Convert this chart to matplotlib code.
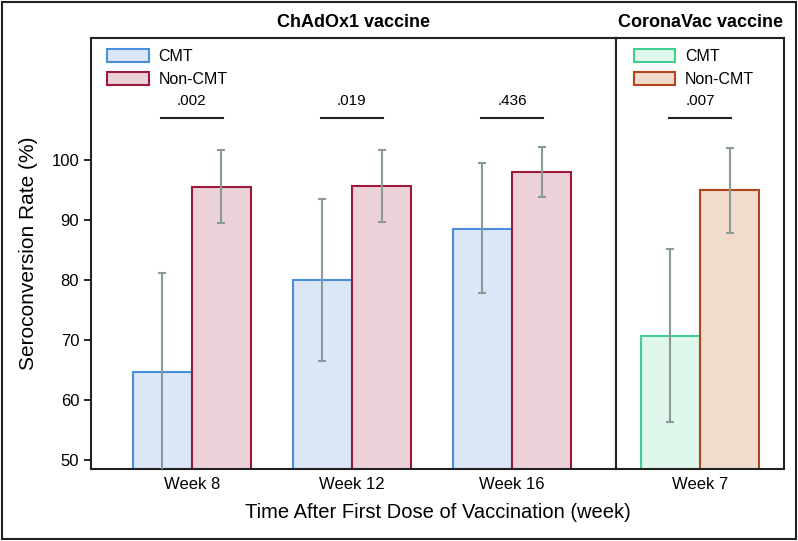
import matplotlib
matplotlib.use("Agg")
import matplotlib.pyplot as plt
from matplotlib.patches import Patch, Rectangle

plt.rcParams['font.family'] = ['Liberation Sans', 'DejaVu Sans']

# ChAdOx1 panel
weeks_a = ["Week 8", "Week 12", "Week 16"]
cmt_a = [64.7, 80.0, 88.5]
cmt_a_lo = [44.0, 66.5, 77.9]
cmt_a_hi = [81.2, 93.5, 99.4]
non_a = [95.5, 95.6, 97.9]
non_a_lo = [89.5, 89.7, 93.8]
non_a_hi = [101.7, 101.7, 102.1]
p_a = [".002", ".019", ".436"]

# CoronaVac panel
weeks_b = ["Week 7"]
cmt_b = [70.7]
cmt_b_lo = [56.4]
cmt_b_hi = [85.1]
non_b = [94.9]
non_b_lo = [87.8]
non_b_hi = [102.0]
p_b = [".007"]

W, H = 798, 541
fig = plt.figure(figsize=(W / 100, H / 100), dpi=100)

ax1 = fig.add_axes([91 / W, (H - 469) / H, 525 / W, 431 / H])
ax2 = fig.add_axes([616 / W, (H - 469) / H, 168 / W, 431 / H])

bw = 0.37
err_col = "#8a9a9a"


def draw_panel(ax, weeks, cmt, cmt_lo, cmt_hi, non, non_lo, non_hi, pvals,
               c_edge, c_fill, n_edge, n_fill):
    x = list(range(len(weeks)))
    xc = [i - bw / 2 for i in x]
    xn = [i + bw / 2 for i in x]
    ax.bar(xc, cmt, width=bw, bottom=0, color=c_fill, edgecolor=c_edge, linewidth=1.5, zorder=2)
    ax.bar(xn, non, width=bw, bottom=0, color=n_fill, edgecolor=n_edge, linewidth=1.5, zorder=2)
    ax.errorbar(xc, cmt, yerr=[[v - l for v, l in zip(cmt, cmt_lo)], [h - v for v, h in zip(cmt, cmt_hi)]],
                fmt="none", ecolor=err_col, elinewidth=1.5, capsize=3, capthick=1.5, zorder=3)
    ax.errorbar(xn, non, yerr=[[v - l for v, l in zip(non, non_lo)], [h - v for v, h in zip(non, non_hi)]],
                fmt="none", ecolor=err_col, elinewidth=1.5, capsize=3, capthick=1.5, zorder=3)
    for i, p in zip(x, pvals):
        ax.plot([i - 0.195, i + 0.195], [107, 107], color="#222222", lw=1.5)
        ax.text(i, 108.6, p, ha="center", va="bottom", fontsize=11)
    ax.set_xticks(x)
    ax.set_xticklabels(weeks, fontsize=12)
    ax.tick_params(axis="x", length=0, pad=6)
    ax.set_ylim(48.5, 120.3)
    legend_handles = [Patch(facecolor=c_fill, edgecolor=c_edge, linewidth=1.5, label="CMT"),
                      Patch(facecolor=n_fill, edgecolor=n_edge, linewidth=1.5, label="Non-CMT")]
    ax.legend(handles=legend_handles, loc="upper left", frameon=False, fontsize=11.5,
              handlelength=2.6, handleheight=0.9, borderaxespad=0.3, labelspacing=0.45,
              handletextpad=0.6,
              bbox_to_anchor=(0.01, 1.0) if len(weeks) > 1 else (0.04, 1.0))
    for s in ax.spines.values():
        s.set_linewidth(1.5)
        s.set_color("#222222")


draw_panel(ax1, weeks_a, cmt_a, cmt_a_lo, cmt_a_hi, non_a, non_a_lo, non_a_hi, p_a,
           "#4a8fdc", "#dbe6f7", "#9b1a3a", "#ebd1d8")
draw_panel(ax2, weeks_b, cmt_b, cmt_b_lo, cmt_b_hi, non_b, non_b_lo, non_b_hi, p_b,
           "#3fd08f", "#e0f7ec", "#b4451b", "#f0dccd")

ax1.set_xlim(-0.63, 2.65)
ax2.set_xlim(-0.525, 0.525)

ax1.set_yticks([50, 60, 70, 80, 90, 100])
ax1.tick_params(axis="y", labelsize=12, length=5, width=1.2)
ax1.set_ylabel("Seroconversion Rate (%)", fontsize=15, labelpad=10)
ax2.set_yticks([])

ax1.set_title("ChAdOx1 vaccine", fontsize=13, fontweight="bold", pad=8)
ax2.set_title("CoronaVac vaccine", fontsize=13, fontweight="bold", pad=8)

fig.text(437.5 / W, 1 - 513 / H, "Time After First Dose of Vaccination (week)",
         ha="center", va="center", fontsize=14.5)

# outer frame
fig.patches.append(Rectangle((0.002, 0.003), 0.995, 0.994, transform=fig.transFigure,
                             fill=False, edgecolor="#222222", linewidth=1.5))

fig.savefig("out.png", dpi=100)
